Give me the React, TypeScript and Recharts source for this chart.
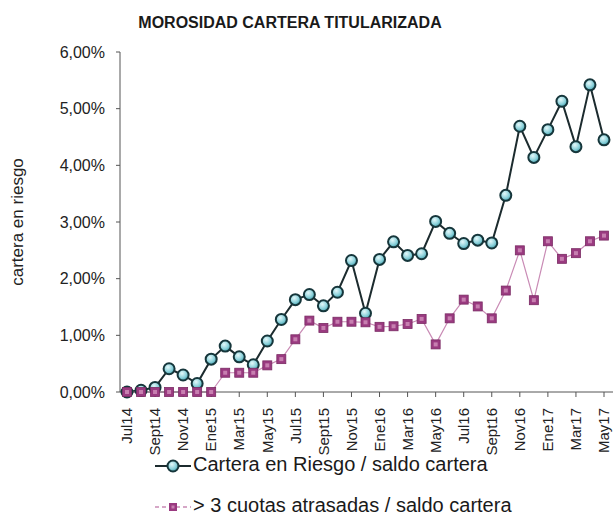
import React from 'react';
import { LineChart, Line, XAxis, YAxis } from 'recharts';

const months = [
  'Jul14', 'Ago14', 'Sept14', 'Oct14', 'Nov14', 'Dic14',
  'Ene15', 'Feb15', 'Mar15', 'Abr15', 'May15', 'Jun15', 'Jul15', 'Ago15', 'Sept15', 'Oct15', 'Nov15', 'Dic15',
  'Ene16', 'Feb16', 'Mar16', 'Abr16', 'May16', 'Jun16', 'Jul16', 'Ago16', 'Sept16', 'Oct16', 'Nov16', 'Dic16',
  'Ene17', 'Feb17', 'Mar17', 'Abr17', 'May17',
];

const carteraRiesgo = [
  0.0, 0.03, 0.08, 0.41, 0.3, 0.15,
  0.58, 0.81, 0.62, 0.48, 0.9, 1.28, 1.63, 1.72, 1.52, 1.76, 2.32, 1.39,
  2.34, 2.65, 2.41, 2.44, 3.01, 2.8, 2.62, 2.68, 2.63, 3.47, 4.69, 4.14,
  4.63, 5.13, 4.33, 5.42, 4.45,
];

const cuotasAtrasadas = [
  0, 0, 0, 0, 0, 0,
  0, 0.34, 0.34, 0.34, 0.47, 0.58, 0.93, 1.26, 1.13, 1.24, 1.24, 1.23,
  1.15, 1.16, 1.2, 1.29, 0.84, 1.3, 1.63, 1.51, 1.3, 1.79, 2.5, 1.62,
  2.66, 2.35, 2.45, 2.66, 2.76,
];

const yTicks = [0, 1, 2, 3, 4, 5, 6];

const data = months.map((m, i) => ({
  mes: m,
  riesgo: carteraRiesgo[i],
  cuotas: cuotasAtrasadas[i],
}));

const FONT = '"Liberation Sans", Arial, sans-serif';
const pct = (v: number) => v.toFixed(2).replace('.', ',') + '%';

const MonthTick = (props: any) => {
  const { x, y, payload } = props;
  return (
    <text
      x={x}
      y={y}
      transform={`rotate(-90, ${x}, ${y})`}
      textAnchor="end"
      dy="0.35em"
      fontSize={15}
      fill="#222"
      fontFamily={FONT}
    >
      {payload.value}
    </text>
  );
};

const SquareDot = (props: any) => {
  const { cx, cy, index } = props;
  if (cx == null || cy == null) return null;
  return (
    <g key={`sq-${index}`}>
      <rect x={cx - 4.5} y={cy - 4.5} width={9} height={9} fill="#9a3a80" stroke="#7a2a63" strokeWidth={0.8} />
      <rect x={cx - 2} y={cy - 2} width={4} height={4} fill="#c77fb0" />
    </g>
  );
};

const LegendIcon = ({ kind }: { kind: 'circle' | 'square' }) => (
  <svg width={36} height={16} style={{ verticalAlign: 'middle', marginRight: 2 }}>
    {kind === 'circle' ? (
      <>
        <line x1={0} y1={8} x2={36} y2={8} stroke="#1c2b2e" strokeWidth={2} />
        <circle cx={18} cy={8} r={5.5} fill="url(#bola)" stroke="#16363b" strokeWidth={2} />
      </>
    ) : (
      <>
        <line x1={0} y1={8} x2={36} y2={8} stroke="#c98bb5" strokeWidth={1.5} strokeDasharray="4 3" />
        <rect x={14} y={4} width={8} height={8} fill="#9a3a80" />
        <rect x={16.5} y={6.5} width={3} height={3} fill="#c77fb0" />
      </>
    )}
  </svg>
);

export default function App() {
  return (
    <div style={{ position: 'absolute', left: 0, top: 0, width: 613, height: 526, background: '#fff', fontFamily: FONT }}>
      <svg width={0} height={0} style={{ position: 'absolute' }}>
        <defs>
          <radialGradient id="bola" cx="40%" cy="35%" r="65%">
            <stop offset="0%" stopColor="#e4f8fa" />
            <stop offset="60%" stopColor="#8fd3dc" />
            <stop offset="100%" stopColor="#4aa6b3" />
          </radialGradient>
        </defs>
      </svg>
      <div
        style={{
          position: 'absolute', left: 0, width: 580, top: 14, textAlign: 'center',
          fontSize: 16, fontWeight: 'bold', color: '#1a1a1a',
        }}
      >
        MOROSIDAD CARTERA TITULARIZADA
      </div>
      <LineChart width={613} height={526} data={data} margin={{ top: 52, right: 0, left: 0, bottom: 74 }}>
        <XAxis
          dataKey="mes"
          interval={1}
          height={60}
          padding={{ left: 7, right: 9 }}
          tick={<MonthTick />}
          tickSize={5}
          tickMargin={11}
          stroke="#555"
        />
        <YAxis
          width={120}
          domain={[0, 6]}
          ticks={yTicks}
          tickFormatter={pct}
          tickSize={4}
          tickMargin={11}
          stroke="#555"
          tick={{ fontSize: 16, fill: '#222', fontFamily: FONT }}
          label={{
            value: 'cartera en riesgo', angle: -90, position: 'insideLeft', offset: 17,
            style: { textAnchor: 'middle', fontSize: 17, fill: '#222', fontFamily: FONT },
          }}
        />
        <Line
          dataKey="riesgo"
          type="linear"
          stroke="#1c2b2e"
          strokeWidth={2}
          dot={{ r: 5.5, fill: 'url(#bola)', stroke: '#16363b', strokeWidth: 2 }}
          isAnimationActive={false}
        />
        <Line
          dataKey="cuotas"
          type="linear"
          stroke="#c98bb5"
          strokeWidth={1.2}
          dot={<SquareDot />}
          isAnimationActive={false}
        />
      </LineChart>
      <div style={{ position: 'absolute', left: 155, top: 453, fontSize: 20, color: '#1a1a1a', whiteSpace: 'nowrap' }}>
        <LegendIcon kind="circle" />
        Cartera en Riesgo / saldo cartera
      </div>
      <div style={{ position: 'absolute', left: 155, top: 494, fontSize: 20, color: '#1a1a1a', whiteSpace: 'nowrap' }}>
        <LegendIcon kind="square" />
        {'> 3 cuotas atrasadas / saldo cartera'}
      </div>
    </div>
  );
}
